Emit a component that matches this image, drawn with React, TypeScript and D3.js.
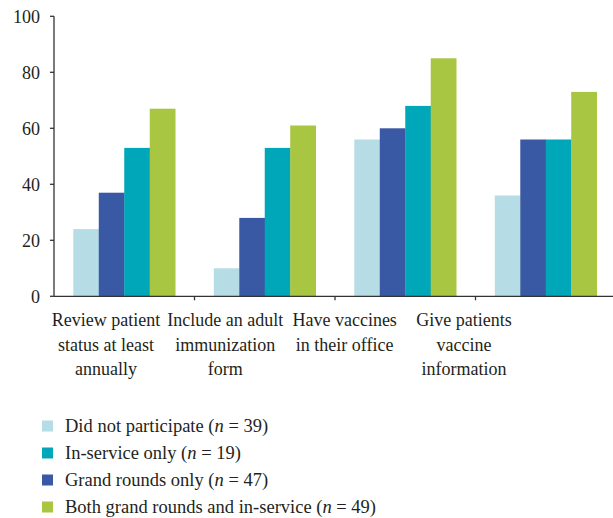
import React from 'react';
import * as d3 from 'd3';

const categories = [
  ['Review patient', 'status at least', 'annually'],
  ['Include an adult', 'immunization', 'form'],
  ['Have vaccines', 'in their office'],
  ['Give patients', 'vaccine', 'information'],
];

// bar order inside each group
const barSeries = ['none', 'grand', 'inservice', 'both'];
const notParticipated = [24, 10, 56, 36];
const grandRoundsOnly = [37, 28, 60, 56];
const inServiceOnly = [53, 53, 68, 56];
const bothGroups = [67, 61, 85, 73];

const yTicks = [0, 20, 40, 60, 80, 100];

const legendItems = [
  { key: 'none', label: 'Did not participate', n: 39 },
  { key: 'inservice', label: 'In-service only', n: 19 },
  { key: 'grand', label: 'Grand rounds only', n: 47 },
  { key: 'both', label: 'Both grand rounds and in-service', n: 49 },
];

const colors = {
  none: '#b6dde6',
  grand: '#3a59a4',
  inservice: '#00a7b9',
  both: '#a8c641',
};

const font = '"Liberation Serif", "Times New Roman", serif';
const ink = '#231f20';

export default function App() {
  const width = 613;
  const height = 518;
  const left = 54;
  const top = 16.3;
  const bottom = 296.3;

  const values = [notParticipated, grandRoundsOnly, inServiceOnly, bothGroups];
  const idx = d3.range(categories.length);

  const x = d3.scaleBand().domain(idx.map(String)).range([left, 616]).paddingInner(0).paddingOuter(0);
  const inner = d3.scaleBand().domain(barSeries).range([19.3, x.bandwidth() - 19.3]);
  const y = d3.scaleLinear().domain([0, 100]).range([bottom, top]);
  // the category labels in the source sit left of the band centres
  const labelX = d3.scalePoint().domain(idx.map(String)).range([106, 464]);

  return (
    <svg width={width} height={height} style={{ position: 'absolute', left: 0, top: 0 }}>
      <rect width={width} height={height} fill="#fff" />
      {idx.map(i => (
        <g key={i} transform={`translate(${x(String(i))},0)`}>
          {barSeries.map((s, j) => (
            <rect
              key={s}
              x={inner(s)}
              y={y(values[j][i])}
              width={inner.bandwidth() + 0.3}
              height={y(0) - y(values[j][i])}
              fill={colors[s]}
            />
          ))}
        </g>
      ))}
      {/* y axis */}
      <line x1={left} x2={left} y1={top} y2={bottom} stroke="#333" strokeWidth={1.3} />
      {yTicks.map(t => (
        <g key={t}>
          <line x1={left - 4} x2={left} y1={y(t)} y2={y(t)} stroke="#333" strokeWidth={1.3} />
          <text x={left - 14} y={y(t)} dy="0.36em" textAnchor="end" fontFamily={font} fontSize={18} fill={ink}>
            {t}
          </text>
        </g>
      ))}
      {/* x axis */}
      <line x1={left} x2={width} y1={bottom} y2={bottom} stroke="#333" strokeWidth={1.3} />
      {idx.slice(1).map(i => (
        <line key={i} x1={x(String(i))} x2={x(String(i))} y1={bottom} y2={bottom + 4} stroke="#333" strokeWidth={1.3} />
      ))}
      {categories.map((lines, i) => (
        <text key={i} x={labelX(String(i))} y={326} textAnchor="middle" fontFamily={font} fontSize={18} fill={ink}>
          {lines.map((l, k) => (
            <tspan key={k} x={labelX(String(i))} dy={k === 0 ? 0 : 24.5}>
              {l}
            </tspan>
          ))}
        </text>
      ))}
      {/* legend */}
      {legendItems.map((d, i) => (
        <g key={d.key} transform={`translate(42,${426 + i * 27})`}>
          <rect x={0} y={-5.5} width={11} height={11} fill={colors[d.key]} />
          <text x={23} y={0} dy="0.33em" fontFamily={font} fontSize={18.5} fill={ink}>
            {d.label} (<tspan fontStyle="italic">n</tspan> = {d.n})
          </text>
        </g>
      ))}
    </svg>
  );
}
